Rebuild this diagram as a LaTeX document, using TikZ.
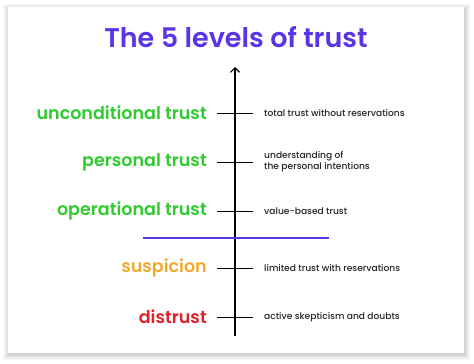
\documentclass[tikz,border=0pt]{standalone}
\usepackage{fontspec}
\usetikzlibrary{arrows.meta}
\setmainfont{Poppins}
\newfontfamily\semib{Poppins SemiBold}
\newfontfamily\medf{Poppins Medium}
\definecolor{titlepurple}{HTML}{5A35E6}
\definecolor{lvgreen}{HTML}{2FCB2F}
\definecolor{lvorange}{HTML}{F0AA2E}
\definecolor{lvred}{HTML}{E2202B}
\tikzset{
  level/.style={anchor=east, font=\semib\fontsize{17.5}{20}\selectfont, inner sep=0pt},
  desc/.style={anchor=west, font=\medf\fontsize{9.1}{11}\selectfont, align=left, inner sep=0pt, text=black!85},
  tick/.style={line width=0.9pt},
}
\begin{document}
\begin{tikzpicture}[x=1pt,y=-1pt]
\useasboundingbox (0,0) rectangle (474,364);
\fill[white] (0,0) rectangle (474,364);
% shadow
\foreach \d/\o in {6/0.03,4.5/0.04,3/0.05,1.5/0.06}{
  \fill[black,opacity=\o] (8-\d+1,7-\d+2.5) rectangle (464+\d,353+\d+1);
}
\fill[white] (8,7) rectangle (464,353);
% title
\node[font=\semib\fontsize{27}{30}\selectfont, text=titlepurple, inner sep=0pt] (title) at (236,37) {The 5 levels of trust};
% axis
\coordinate (bot) at (235,336);
\coordinate (top) at (235,67);
\draw[line width=1.2pt, -{Straight Barb[length=4.5pt,width=9pt,line width=1.1pt]}] (bot) -- (top);
% purple divider
\coordinate (dl) at (143,238);
\coordinate (dr) at (329,238);
\draw[titlepurple, line width=1.2pt] (dl) -- (dr);
% levels
\foreach \n/\y/\c/\t in {a/113/lvgreen/unconditional trust, b/162/lvgreen/personal trust, c/211/lvgreen/operational trust, d/268/lvorange/suspicion, e/317/lvred/distrust}{
  \node[level, text=\c] (l\n) at (207,\y) {\t};
  \coordinate (tl\n) at (217,\y);
  \coordinate (tr\n) at (253,\y);
  \draw[tick] (tl\n) -- (tr\n);
}
\node[desc] (da) at (264,113) {total trust without reservations};
\node[desc] (db) at (264,162) {understanding of\\the personal intentions};
\node[desc] (dc) at (264,211) {value-based trust};
\node[desc] (dd) at (264,268) {limited trust with reservations};
\node[desc] (de) at (264,317) {active skepticism and doubts};
\end{tikzpicture}
\end{document}
